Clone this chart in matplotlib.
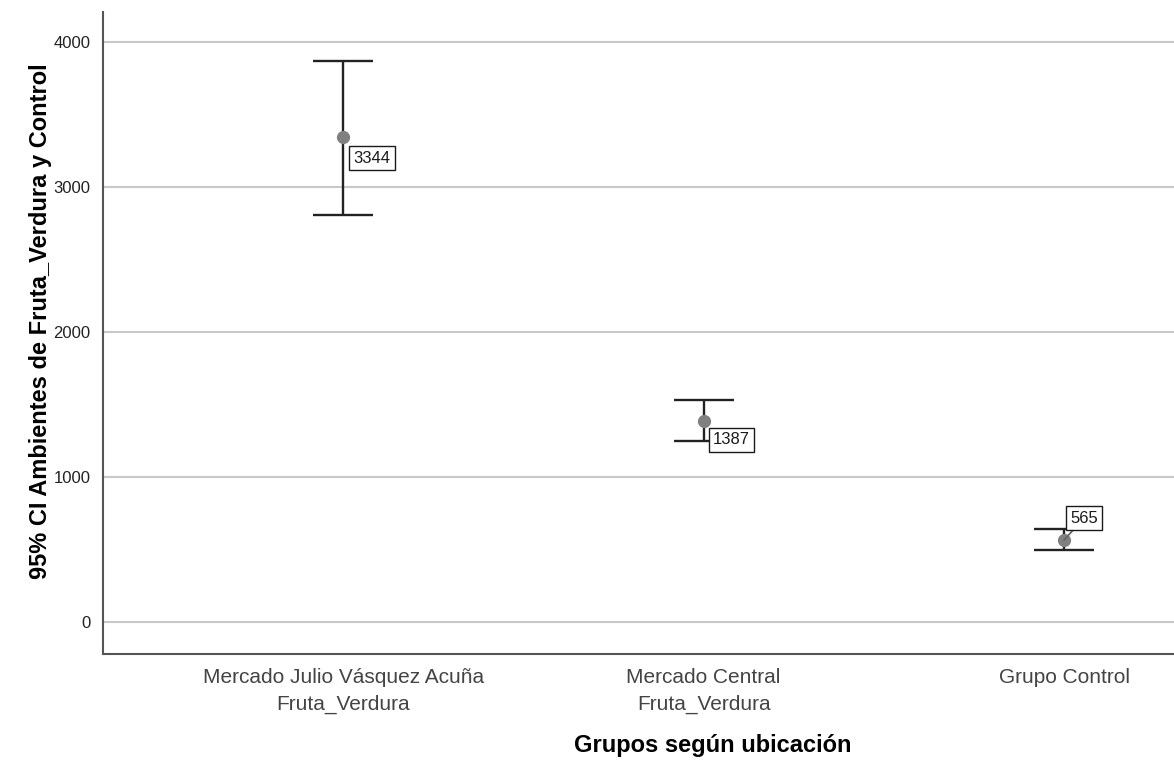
import matplotlib
matplotlib.use("Agg")
import matplotlib.pyplot as plt

categories = ["Mercado Julio Vásquez Acuña\nFruta_Verdura",
              "Mercado Central\nFruta_Verdura",
              "Grupo Control"]
means = [3344, 1387, 565]
ci_low = [2807, 1245, 497]
ci_high = [3869, 1531, 638]
mean_labels = ["3344", "1387", "565"]
label_offsets = [(29, -21), (28, -19), (20, 22)]
label_links = [False, False, True]
yticks = [0, 1000, 2000, 3000, 4000]

plt.rcParams['font.family'] = ['Liberation Sans', 'DejaVu Sans']

fig = plt.figure(figsize=(11.74, 7.69), dpi=100)
ax = fig.add_axes([103/1174, 1 - 654/769, 1 - 103/1174, (654 - 12)/769])

x = list(range(len(categories)))
lower_err = [m - l for m, l in zip(means, ci_low)]
upper_err = [h - m for m, h in zip(means, ci_high)]
ax.errorbar(x, means, yerr=[lower_err, upper_err], fmt='none', ecolor='#222222',
            elinewidth=1.7, capsize=21.6, capthick=1.7, zorder=3)
ax.plot(x, means, 'o', color='#808080', markersize=8.5, zorder=4)

for xi, m, lab, off, link in zip(x, means, mean_labels, label_offsets, label_links):
    kw = {}
    if link:
        kw['arrowprops'] = dict(arrowstyle='-', color='#666666', lw=1.3,
                                shrinkA=0, shrinkB=0)
    ax.annotate(lab, (xi, m), xytext=off, textcoords='offset pixels',
                ha='center', va='center', fontsize=12, color='#1a1a1a',
                bbox=dict(boxstyle='square,pad=0.25', fc='white', ec='#1a1a1a', lw=1.0),
                zorder=5, **kw)

ax.set_xlim(-0.666, 2.305)
ax.set_ylim(-221, 4207)
ax.set_yticks(yticks)
ax.set_yticklabels([str(t) for t in yticks], fontsize=12, color='#222222')
ax.set_xticks(x)
ax.set_xticklabels(categories, fontsize=15, color='#444444', va='top',
                   linespacing=1.5)
ax.tick_params(axis='both', length=0, pad=9)
ax.tick_params(axis='x', pad=10)
ax.yaxis.grid(True, color='#c8c8c8', lw=1.5)
ax.set_axisbelow(True)
for s in ['top', 'right']:
    ax.spines[s].set_visible(False)
for s in ['left', 'bottom']:
    ax.spines[s].set_color('#555555')
    ax.spines[s].set_linewidth(1.5)

ax.set_ylabel("95% CI Ambientes de Fruta_Verdura y Control", fontsize=17,
              fontweight='bold', labelpad=1)
ax.yaxis.label.set_y(0.519)
ax.set_xlabel("Grupos según ubicación", fontsize=17, fontweight='bold', labelpad=15)
ax.xaxis.label.set_x(0.569)

fig.savefig("out.png", dpi=100)
